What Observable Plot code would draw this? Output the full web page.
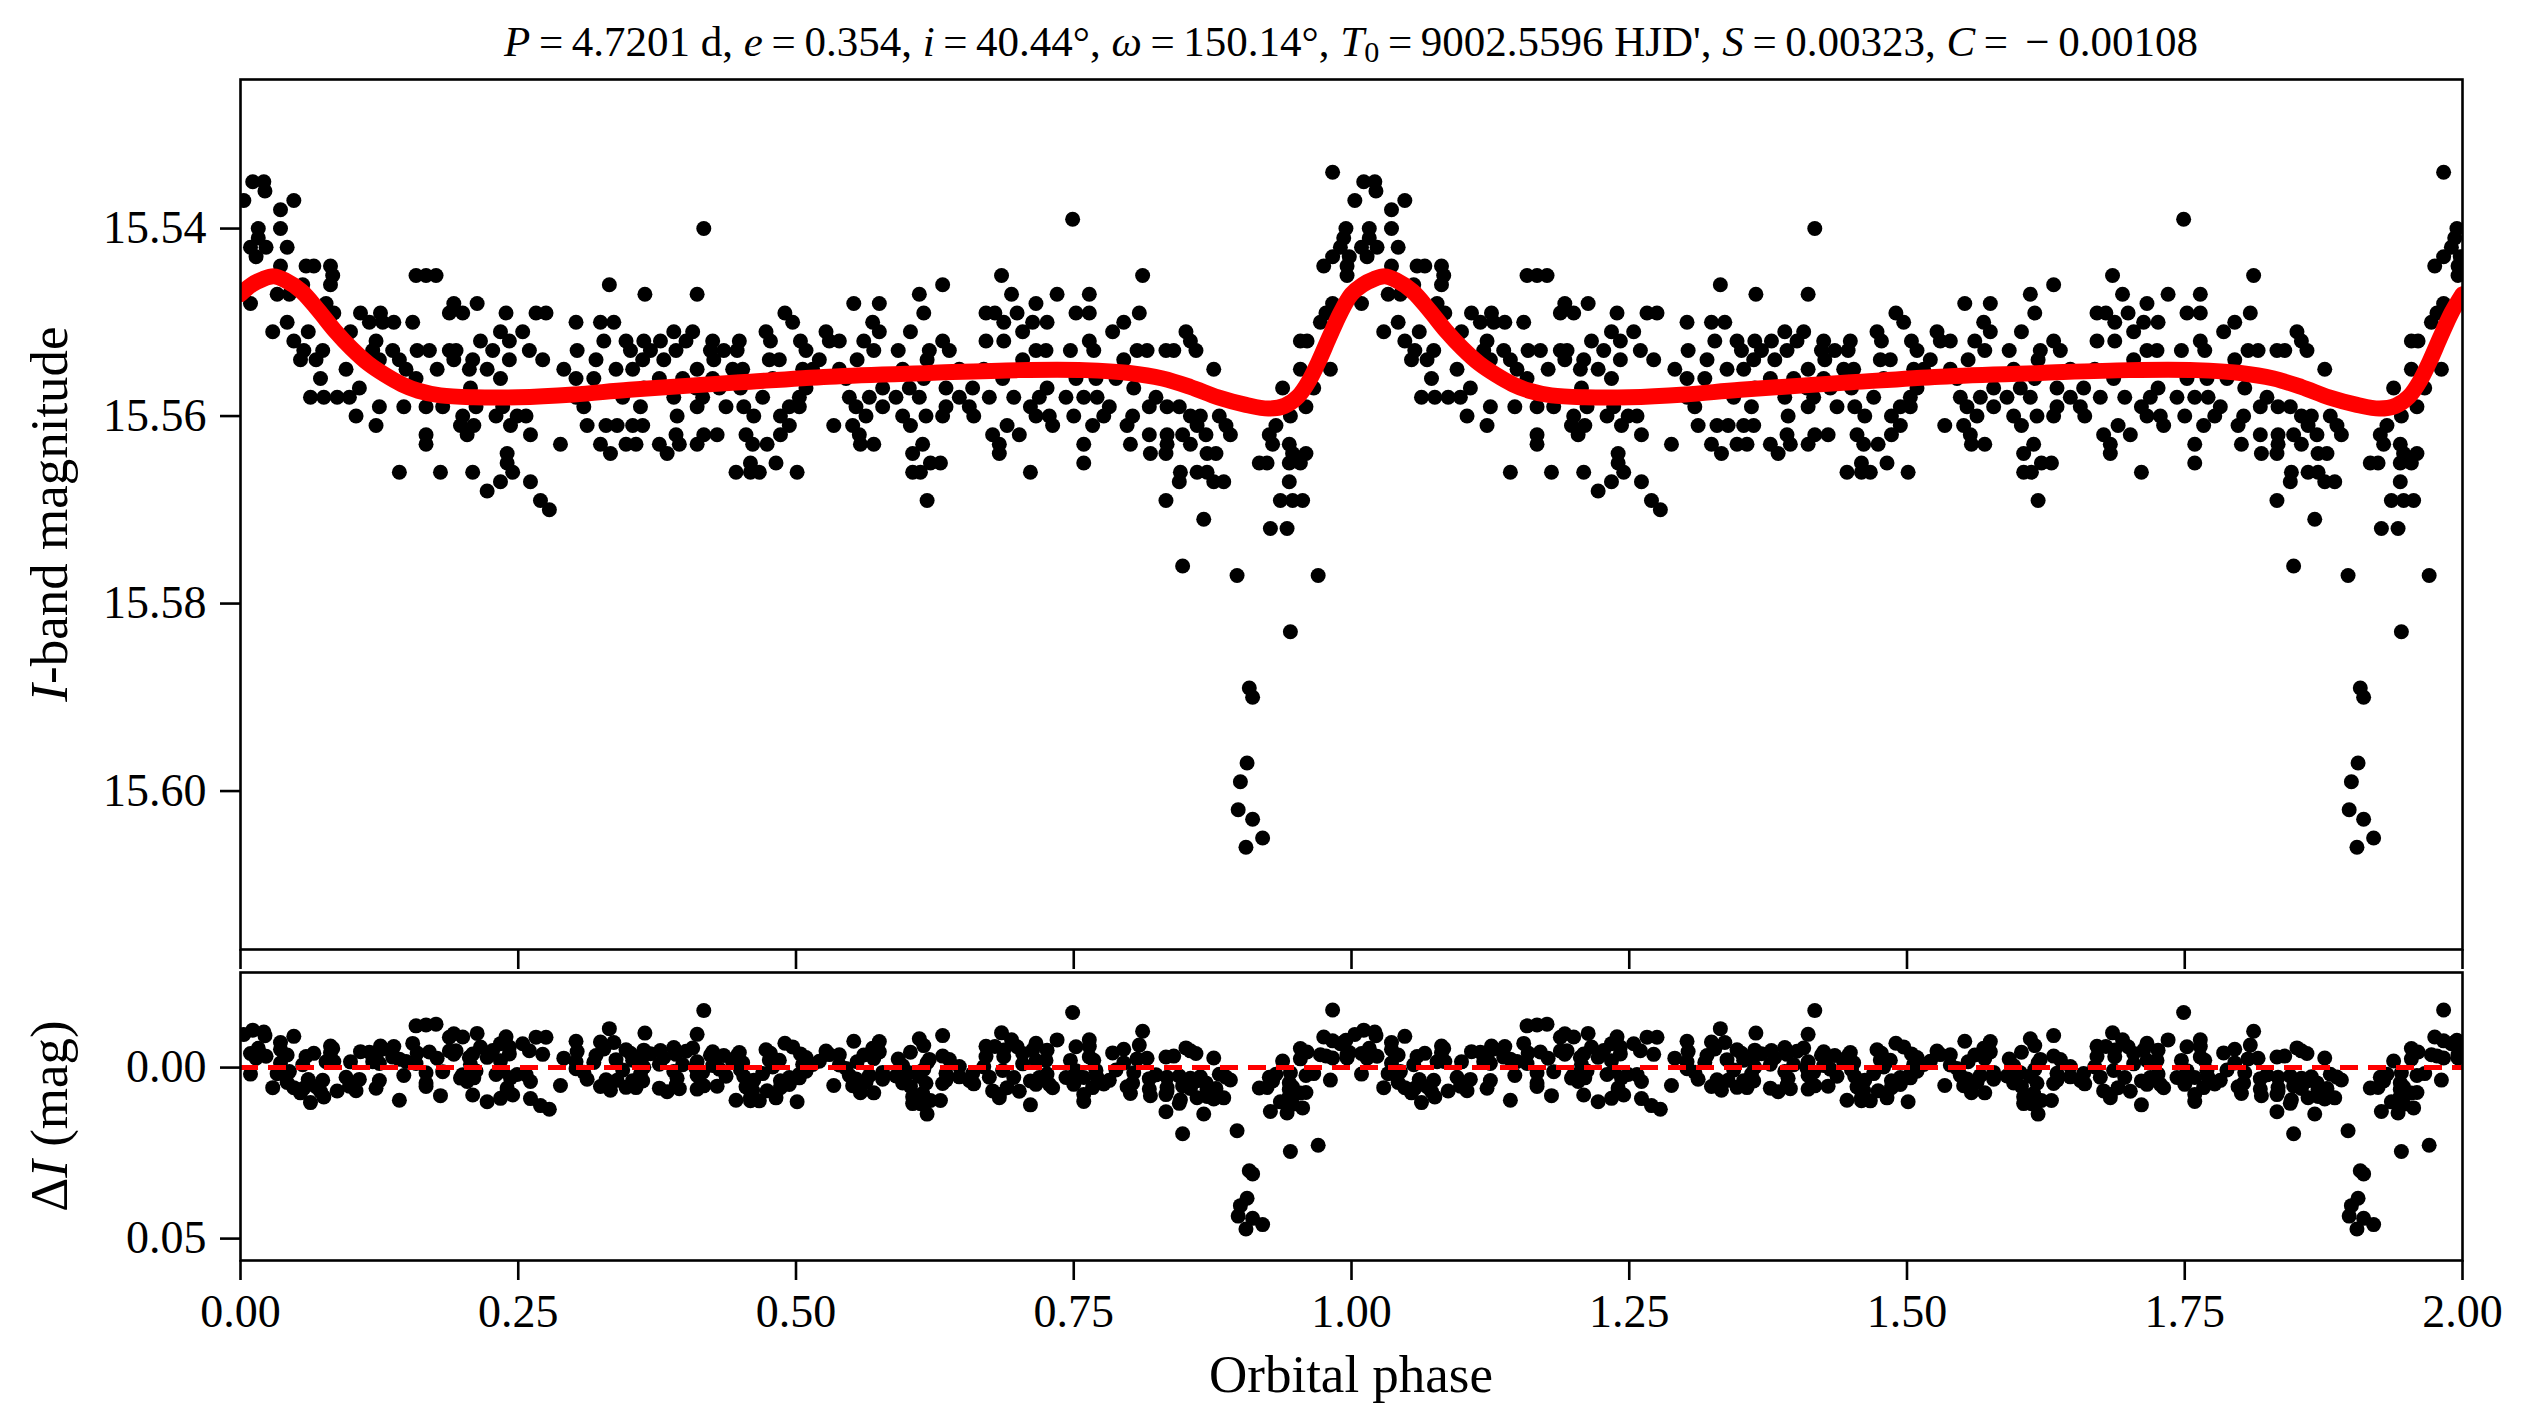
<!DOCTYPE html>
<html><head><meta charset="utf-8">
<script src="https://cdn.jsdelivr.net/npm/d3@7"></script>
<script src="https://cdn.jsdelivr.net/npm/@observablehq/plot@0.6"></script>
<style>
html,body{margin:0;padding:0;background:#fff;}
#fig{position:relative;width:2530px;height:1428px;font-family:"Liberation Serif","Times New Roman",serif;color:#000;overflow:hidden;}
#fig svg{position:absolute;left:0;}
.lbl{position:absolute;white-space:nowrap;line-height:1;}
</style></head><body><div id="fig"></div>
<script>
// ---- observed phase (0-1 cycle; the chart repeats it for 1-2) ----
const phase = [
0.003,0.011,0.021,0.022,0.048,0.036,0.016,0.036,0.016,0.009,
0.023,0.042,0.014,0.036,0.059,0.066,0.081,0.083,0.056,0.081,
0.033,0.044,0.009,0.077,0.084,0.158,0.167,0.176,0.332,0.192,
0.213,0.188,0.200,0.239,0.266,0.275,0.108,0.126,0.042,0.116,
0.128,0.138,0.155,0.302,0.324,0.336,0.029,0.061,0.099,0.234,
0.254,0.048,0.122,0.216,0.242,0.327,0.057,0.074,0.119,0.137,
0.159,0.170,0.188,0.194,0.227,0.260,0.303,0.054,0.068,0.125,
0.143,0.192,0.209,0.242,0.272,0.320,0.095,0.149,0.177,0.206,
0.222,0.291,0.338,0.072,0.158,0.234,0.302,0.318,0.107,0.207,
0.063,0.075,0.087,0.098,0.302,0.344,0.125,0.147,0.167,0.182,
0.212,0.236,0.309,0.104,0.200,0.230,0.249,0.257,0.122,0.198,
0.210,0.243,0.312,0.329,0.339,0.167,0.204,0.261,0.167,0.288,
0.324,0.240,0.333,0.240,0.143,0.180,0.209,0.245,0.234,0.261,
0.222,0.270,0.278,
0.417,0.364,0.411,0.552,0.575,0.611,0.632,0.685,0.694,0.615,
0.490,0.671,0.679,0.699,0.497,0.569,0.687,0.390,0.407,0.473,
0.527,0.575,0.603,0.704,0.347,0.363,0.378,0.401,0.425,0.449,
0.477,0.504,0.530,0.539,0.561,0.632,0.671,0.687,0.351,0.369,
0.392,0.423,0.435,0.447,0.509,0.570,0.592,0.620,0.638,0.362,
0.381,0.426,0.476,0.485,0.521,0.555,0.618,0.704,0.353,0.411,
0.443,0.452,0.506,0.515,0.539,0.596,0.647,0.669,0.377,0.398,
0.425,0.479,0.545,0.615,0.686,0.363,0.410,0.431,0.450,0.509,
0.578,0.602,0.635,0.659,0.390,0.416,0.470,0.503,0.548,0.566,
0.590,0.611,0.647,0.674,0.696,0.360,0.411,0.437,0.453,0.494,
0.503,0.554,0.578,0.635,0.656,0.393,0.462,0.486,0.563,0.596,
0.617,0.632,0.660,0.353,0.362,0.494,0.534,0.551,0.603,0.690,
0.392,0.417,0.429,0.455,0.486,0.557,0.677,0.701,0.347,0.356,
0.377,0.395,0.411,0.461,0.474,0.558,0.570,0.614,0.683,0.384,
0.605,0.683,0.459,0.482,0.621,0.630,0.446,0.459,0.467,0.501,
0.605,0.612,0.618,
0.983,0.749,0.995,0.993,0.990,0.983,0.998,0.975,0.996,0.996,
0.812,0.735,0.764,0.716,0.983,0.752,0.764,0.809,0.977,0.713,
0.726,0.795,0.972,0.785,0.851,0.764,0.855,0.954,0.960,0.716,
0.725,0.747,0.768,0.807,0.816,0.833,0.840,0.860,0.795,0.876,
0.954,0.981,0.752,0.770,0.788,0.726,0.804,0.938,0.966,0.719,
0.743,0.759,0.771,0.824,0.711,0.782,0.818,0.834,0.845,0.959,
0.716,0.728,0.750,0.777,0.803,0.855,0.864,0.881,0.945,0.731,
0.767,0.798,0.861,0.887,0.932,0.818,0.834,0.848,0.869,0.891,
0.926,0.759,0.801,0.834,0.855,0.929,0.944,0.819,0.833,0.870,
0.878,0.947,0.959,0.759,0.917,0.924,0.944,0.954,0.711,0.846,
0.861,0.870,0.845,0.876,0.885,0.944,0.833,0.936,0.947,0.956,
0.867,0.927,0.942,0.848,0.897,0.970,0.945,0.908,0.911,0.906,
0.900,0.898,0.911,0.920,0.905
];
// ---- observed I-band magnitude ----
const mag = [
15.537,15.535,15.535,15.536,15.537,15.538,15.540,15.540,15.541,15.542,
15.542,15.542,15.543,15.544,15.544,15.544,15.544,15.545,15.546,15.546,
15.547,15.547,15.548,15.548,15.549,15.545,15.545,15.545,15.546,15.548,
15.548,15.549,15.549,15.549,15.549,15.549,15.549,15.549,15.550,15.550,
15.550,15.550,15.550,15.550,15.550,15.550,15.551,15.551,15.551,15.551,
15.551,15.552,15.552,15.552,15.552,15.552,15.553,15.553,15.553,15.553,
15.553,15.553,15.553,15.553,15.553,15.553,15.553,15.554,15.554,15.554,
15.554,15.554,15.554,15.554,15.554,15.554,15.555,15.555,15.555,15.555,
15.555,15.555,15.555,15.556,15.556,15.556,15.556,15.556,15.557,15.557,
15.558,15.558,15.558,15.558,15.558,15.558,15.559,15.559,15.559,15.559,
15.559,15.559,15.559,15.560,15.560,15.560,15.560,15.560,15.561,15.561,
15.561,15.561,15.561,15.561,15.561,15.562,15.562,15.562,15.563,15.563,
15.563,15.564,15.564,15.565,15.566,15.566,15.566,15.566,15.567,15.567,
15.568,15.569,15.570,
15.540,15.547,15.547,15.548,15.548,15.547,15.546,15.545,15.547,15.549,
15.549,15.549,15.549,15.549,15.550,15.550,15.550,15.551,15.551,15.551,
15.551,15.551,15.551,15.551,15.552,15.552,15.552,15.552,15.552,15.552,
15.552,15.552,15.552,15.552,15.552,15.552,15.552,15.552,15.553,15.553,
15.553,15.553,15.553,15.553,15.553,15.553,15.553,15.553,15.553,15.554,
15.554,15.554,15.554,15.554,15.554,15.554,15.554,15.554,15.555,15.555,
15.555,15.555,15.555,15.555,15.555,15.555,15.555,15.555,15.556,15.556,
15.556,15.556,15.556,15.556,15.556,15.557,15.557,15.557,15.557,15.557,
15.557,15.557,15.557,15.557,15.558,15.558,15.558,15.558,15.558,15.558,
15.558,15.558,15.558,15.558,15.558,15.559,15.559,15.559,15.559,15.559,
15.559,15.559,15.559,15.559,15.559,15.560,15.560,15.560,15.560,15.560,
15.560,15.560,15.560,15.561,15.561,15.561,15.561,15.561,15.561,15.561,
15.562,15.562,15.562,15.562,15.562,15.562,15.562,15.562,15.563,15.563,
15.563,15.563,15.563,15.563,15.563,15.563,15.563,15.563,15.563,15.564,
15.564,15.564,15.565,15.565,15.565,15.565,15.566,15.566,15.566,15.566,
15.566,15.566,15.569,
15.534,15.539,15.540,15.541,15.542,15.543,15.543,15.544,15.544,15.545,
15.545,15.547,15.547,15.548,15.548,15.549,15.549,15.549,15.549,15.550,
15.550,15.550,15.550,15.551,15.551,15.552,15.552,15.552,15.552,15.553,
15.553,15.553,15.553,15.553,15.553,15.553,15.553,15.553,15.554,15.555,
15.555,15.555,15.556,15.556,15.556,15.557,15.557,15.557,15.557,15.558,
15.558,15.558,15.558,15.558,15.559,15.559,15.559,15.559,15.559,15.559,
15.560,15.560,15.560,15.560,15.560,15.560,15.560,15.560,15.560,15.561,
15.561,15.561,15.561,15.561,15.561,15.562,15.562,15.562,15.562,15.562,
15.562,15.563,15.563,15.563,15.563,15.563,15.563,15.564,15.564,15.564,
15.564,15.564,15.564,15.565,15.565,15.565,15.565,15.565,15.566,15.566,
15.566,15.566,15.567,15.567,15.567,15.567,15.569,15.569,15.569,15.569,
15.571,15.572,15.572,15.576,15.577,15.577,15.583,15.589,15.590,15.597,
15.599,15.602,15.603,15.605,15.606
];
// ---- fitted heartbeat model (one cycle) ----
const modelPhase = [0.000,0.010,0.020,0.030,0.040,0.055,0.070,0.085,0.100,0.115,0.130,0.145,0.160,0.180,0.210,0.250,0.300,0.350,0.450,0.530,0.620,0.700,0.760,0.800,0.830,0.855,0.880,0.905,0.925,0.940,0.952,0.962,0.970,0.980,0.990,1.000];
const modelMag   = [15.5470,15.5460,15.5454,15.5451,15.5455,15.5467,15.5487,15.5509,15.5528,15.5544,15.5556,15.5566,15.5573,15.5578,15.5580,15.5580,15.5577,15.5572,15.5564,15.5558,15.5554,15.5551,15.5551,15.5554,15.5560,15.5569,15.5580,15.5588,15.5592,15.5589,15.5579,15.5562,15.5543,15.5516,15.5490,15.5470];
// ---- ticks ----
const xTicks = [0,0.25,0.5,0.75,1,1.25,1.5,1.75,2];
const yTicksTop = [15.54,15.56,15.58,15.60];
const yTicksBottom = [0,0.05];

function modelAt(p){
  let i = d3.bisectRight(modelPhase, p);
  i = Math.min(Math.max(i,1), modelPhase.length-1);
  const t = (p - modelPhase[i-1])/(modelPhase[i]-modelPhase[i-1]);
  return modelMag[i-1] + t*(modelMag[i]-modelMag[i-1]);
}
const obs1 = phase.map((p,i)=>({phase:p, mag:mag[i], base:p}));
const obs = obs1.concat(obs1.map(d=>({phase:d.phase+1, mag:d.mag, base:d.base})));
const resid = obs.map(d=>({phase:d.phase, dmag: d.mag - modelAt(d.base)}));
const model1 = modelPhase.map((p,i)=>({phase:p, mag:modelMag[i]}));
const model = model1.concat(model1.slice(1).map(d=>({phase:d.phase+1, mag:d.mag})));

const W = 2530, L = 240, R = 2530-2462;
const st = {fontSize:"46px", fontFamily:"Liberation Serif, Times New Roman, serif", background:"transparent", overflow:"visible", color:"#000"};
const fmt2 = d3.format(".2f");

const topPlot = Plot.plot({
  width:W, height:1000, marginLeft:L, marginRight:R, marginTop:79, marginBottom:51,
  x:{domain:[0,2]}, y:{domain:[15.6169,15.5241]},
  style: st,
  marks:[
    Plot.dot(obs,{x:"phase", y:"mag", r:7.5, fill:"#000", clip:true}),
    Plot.line(model,{x:"phase", y:"mag", stroke:"#ff0000", strokeWidth:16, curve:"catmull-rom", clip:true}),
    Plot.frame({stroke:"#000", strokeWidth:2.6}),
    Plot.axisY({ticks:yTicksTop, tickSize:20, tickPadding:14, tickFormat:fmt2, label:null, strokeWidth:2.6}),
    Plot.axisX({ticks:xTicks, tickSize:20, tickFormat:()=>"", label:null, strokeWidth:2.6})
  ]
});
const botPlot = Plot.plot({
  width:W, height:488, marginLeft:L, marginRight:R, marginTop:32, marginBottom:168,
  x:{domain:[0,2]}, y:{domain:[0.0564,-0.0278]},
  style: st,
  marks:[
    Plot.dot(resid,{x:"phase", y:"dmag", r:7.5, fill:"#000", clip:true}),
    Plot.ruleY([0],{stroke:"#ff0000", strokeWidth:5, strokeDasharray:"18,10"}),
    Plot.frame({stroke:"#000", strokeWidth:2.6}),
    Plot.axisY({ticks:yTicksBottom, tickSize:20, tickPadding:14, tickFormat:fmt2, label:null, strokeWidth:2.6}),
    Plot.axisX({ticks:xTicks, tickSize:20, tickPadding:14, tickFormat:fmt2, label:null, strokeWidth:2.6})
  ]
});
const fig = document.getElementById("fig");
topPlot.style.top = "0px";
botPlot.style.top = "940px";
fig.appendChild(topPlot);
fig.appendChild(botPlot);

function addLabel(html, x, y, size, rot){
  const d = document.createElement("div");
  d.className = "lbl";
  d.innerHTML = html;
  d.style.left = x+"px"; d.style.top = y+"px"; d.style.fontSize = size+"px";
  d.style.transform = "translate(-50%,-50%)" + (rot ? " rotate(-90deg)" : "");
  fig.appendChild(d);
}
const T = "\u2009";
addLabel(`<i>P</i>${T}=${T}4.7201 d, <i>e</i>${T}=${T}0.354, <i>i</i>${T}=${T}40.44°, <i>ω</i>${T}=${T}150.14°, <i>T</i><sub style="font-size:0.7em;vertical-align:-0.2em">0</sub>${T}=${T}9002.5596 HJD', <i>S</i>${T}=${T}0.00323, <i>C</i>${T}=${T}${T}−${T}0.00108`, 1351, 44, 43, false);
addLabel("Orbital phase", 1351, 1374, 53, false);
addLabel("<i>I</i>-band magnitude", 49, 514, 53, true);
addLabel("Δ<i>I</i> (mag)", 49, 1116, 53, true);
</script></body></html>
